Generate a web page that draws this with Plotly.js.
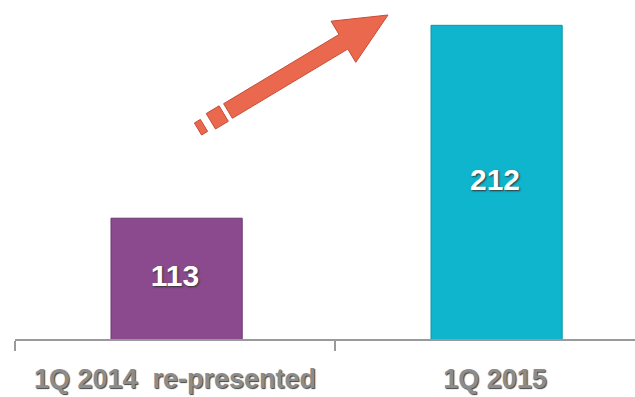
<!DOCTYPE html>
<html>
<head>
<meta charset="utf-8">
<script src="https://cdn.plot.ly/plotly-3.0.1.min.js"></script>
<style>html,body{margin:0;padding:0;background:#fff;}#chart{width:635px;height:397px;}</style>
</head>
<body>
<div id="chart"></div>
<script>
// ---- data ----
var categories = ["1Q 2014  re-presented", "1Q 2015"];
var values = [113, 212];
var barColors = ["#8a4a8d", "#0fb5cc"];
var valueLabels = ["113", "212"];

// axis range (chart is drawn with a truncated value axis)
var yMin = 51, yMax = 225;

var W = 635, H = 397, ML = 15, MR = 0, MT = 0, MB = 58;
var PW = W - ML - MR, PH = H - MT - MB;
function P(px, py) { return [(px - ML) / PW, (H - MB - py) / PH]; }

// decorative arrow polygon (pixel space -> paper)
function poly(pts) {
  return pts.map(function (p, i) { var q = P(p[0], p[1]); return (i ? 'L' : 'M') + q[0].toFixed(5) + ',' + q[1].toFixed(5); }).join(' ') + ' Z';
}
var S = [228, 111], T = [388, 15];
var dx = T[0] - S[0], dy = T[1] - S[1], L = Math.sqrt(dx * dx + dy * dy);
var u = [dx / L, dy / L], n = [-u[1], u[0]];
function at(t, w) { return [S[0] + u[0] * t + n[0] * w, S[1] + u[1] * t + n[1] * w]; }
var headLen = 52, sw = 8.5, hw = 24;
var arrowPath = poly([at(0, -sw), at(L - headLen, -sw), at(L - headLen, -hw), T, at(L - headLen, hw), at(L - headLen, sw), at(0, sw)]);
var piece1 = poly([at(-20, -9), at(-5, -9), at(-5, 9), at(-20, 9)]);
var piece2 = poly([at(-35, -7), at(-28, -7), at(-28, 7), at(-35, 7)]);
var arrowFill = "#e9684e", arrowLine = "#c94a33";

var bars = {
  type: "bar",
  x: categories,
  y: values,
  width: 0.41,
  offset: -0.2,
  marker: { color: barColors, line: { color: ["#6e3572", "#0a97ab"], width: 1 } },
  hoverinfo: "skip"
};
var labels = {
  type: "scatter",
  mode: "text",
  x: categories,
  y: values.map(function (v) { return (yMin + v) / 2; }),
  text: valueLabels,
  textposition: "middle center",
  textfont: { family: "Liberation Sans, Arial, sans-serif", size: 30, color: "#ffffff", weight: "bold", shadow: "1px 1px 2px #333" },
  cliponaxis: false,
  hoverinfo: "skip"
};

var layout = {
  width: W, height: H,
  margin: { l: ML, r: MR, t: MT, b: MB, pad: 0 },
  paper_bgcolor: "#ffffff",
  plot_bgcolor: "#ffffff",
  showlegend: false,
  bargap: 0,
  xaxis: {
    type: "category",
    range: [-0.5, -0.5 + PW / 320],
    showline: true, linecolor: "#9a9a9a", linewidth: 2,
    ticks: "outside", tickson: "boundaries", ticklen: 10, tickwidth: 2, tickcolor: "#9a9a9a",
    showgrid: false, zeroline: false,
    tickfont: { family: "Liberation Sans, Arial, sans-serif", size: 27, color: "#8c8c8c", weight: "bold", shadow: "1px 1px 1px #444" },
    ticklabelstandoff: 15,
    fixedrange: true
  },
  yaxis: {
    range: [yMin, yMax],
    visible: false, showgrid: false, zeroline: false, fixedrange: true
  },
  shapes: [
    { type: "path", xref: "paper", yref: "paper", path: arrowPath, fillcolor: arrowFill, line: { color: arrowLine, width: 1 } },
    { type: "path", xref: "paper", yref: "paper", path: piece1, fillcolor: arrowFill, line: { color: arrowLine, width: 1 } },
    { type: "path", xref: "paper", yref: "paper", path: piece2, fillcolor: arrowFill, line: { color: arrowLine, width: 1 } }
  ]
};

Plotly.newPlot("chart", [bars, labels], layout, { displayModeBar: false, staticPlot: true });
</script>
</body>
</html>
